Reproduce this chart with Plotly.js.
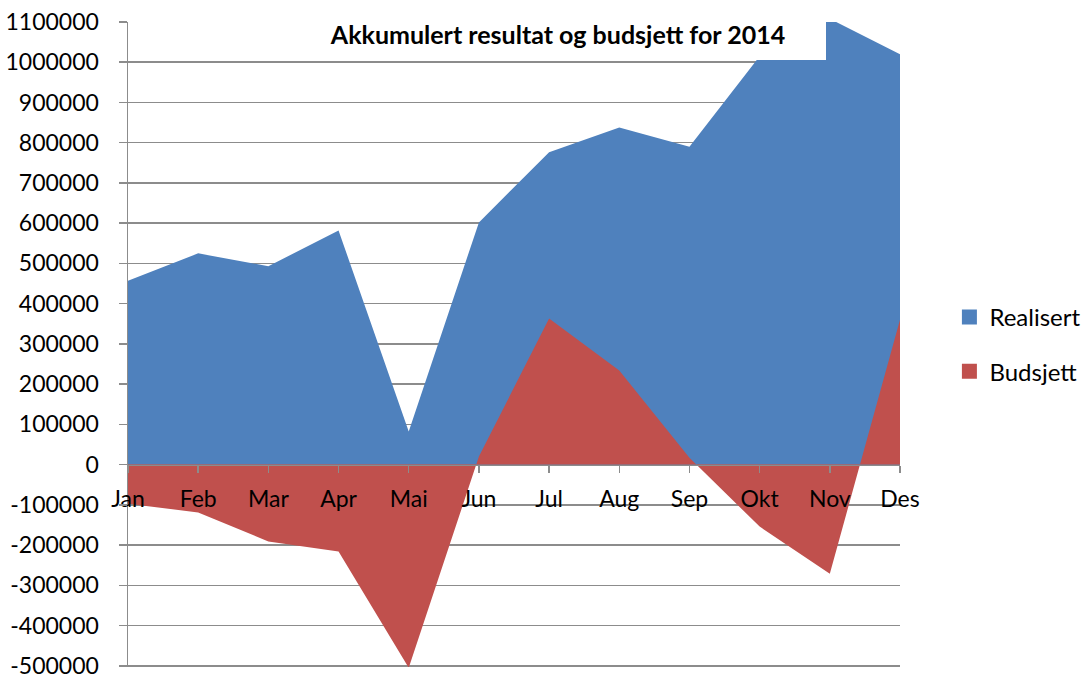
<!DOCTYPE html>
<html>
<head>
<meta charset="utf-8">
<script src="https://cdn.plot.ly/plotly-3.0.1.min.js"></script>
<style>
html,body{margin:0;padding:0;background:#fff;}
#chart{width:1083px;height:674px;}
</style>
</head>
<body>
<div id="chart"></div>
<script>
const months = ["Jan","Feb","Mar","Apr","Mai","Jun","Jul","Aug","Sep","Okt","Nov","Des"];
const realisert = [457000, 525000, 493000, 582000, 82000, 602000, 776000, 838000, 790000, 1015000, 1108000, 1020000];
const budsjett = [-97000, -119000, -191000, -216000, -505000, 20000, 363000, 234000, 17000, -154000, -271000, 360000];
const yTickVals = [-500000,-400000,-300000,-200000,-100000,0,100000,200000,300000,400000,500000,600000,700000,800000,900000,1000000,1100000];
const yTickText = ["-500000","-400000","-300000","-200000","-100000","0","100000","200000","300000","400000","500000","600000","700000","800000","900000","1000000","1100000"];
const titleText = "Akkumulert resultat og budsjett for 2014";
const seriesNames = ["Realisert","Budsjett"];

const blue = "#4F81BD", red = "#C0504D", grid = "#8C8C8C";
const font = "Lato, 'Open Sans', sans-serif";

const traces = [
  {x: months, y: realisert, type: "scatter", mode: "none", fill: "tozeroy", fillcolor: blue, showlegend: false, hoverinfo: "skip"},
  {x: months, y: budsjett, type: "scatter", mode: "none", fill: "tozeroy", fillcolor: red, showlegend: false, hoverinfo: "skip"},
  {x: [null], y: [null], type: "scatter", mode: "markers", name: seriesNames[0], legendgroup: "a",
   marker: {symbol: "square", size: 15, color: blue}},
  {x: [null], y: [null], type: "scatter", mode: "markers", name: seriesNames[1], legendgroup: "b",
   marker: {symbol: "square", size: 15, color: red}}
];

const yMin = -503000, yMax = 1100000;
const layout = {
  width: 1083, height: 674,
  margin: {l: 128, r: 183, t: 22, b: 7, autoexpand: false},
  paper_bgcolor: "#fff", plot_bgcolor: "#fff",
  font: {family: font, size: 23, color: "#000"},
  showlegend: true,
  legend: {x: 1.064, xanchor: "left", y: 0.5, yanchor: "middle", traceorder: "grouped", tracegroupgap: 20,
           font: {family: font, size: 24, color: "#000"}, itemwidth: 30},
  xaxis: {
    type: "category", range: [0, 11], anchor: "free",
    position: (0 - yMin) / (yMax - yMin),
    showgrid: false, zeroline: false, showline: true, linecolor: grid, linewidth: 1.5,
    ticks: "outside", ticklen: 7, tickwidth: 1.5, tickcolor: grid,
    tickfont: {family: font, size: 23, color: "#000"}, ticklabelstandoff: 6
  },
  yaxis: {
    range: [yMin, yMax], tickvals: yTickVals, ticktext: yTickText,
    showgrid: true, gridcolor: grid, gridwidth: 1.5, zeroline: false,
    showline: true, linecolor: grid, linewidth: 1.5,
    ticks: "outside", ticklen: 8, tickwidth: 1.5, tickcolor: grid,
    tickfont: {family: font, size: 23, color: "#000"}, ticklabelstandoff: 15,
    ticklabeloverflow: "allow"
  },
  shapes: [
    {type: "rect", xref: "paper", yref: "paper", x0: (312-128)/772, x1: (826-128)/772,
     y0: (667-60)/645, y1: 1.06, fillcolor: "#fff", line: {width: 0}, layer: "above"}
  ],
  title: {text: "<b>" + titleText + "</b>", x: 558/1083, xanchor: "center", y: 1 - 35/674, yanchor: "middle",
          font: {family: font, size: 25, color: "#000"}}
};

Plotly.newPlot("chart", traces, layout, {staticPlot: true});
</script>
</body>
</html>
